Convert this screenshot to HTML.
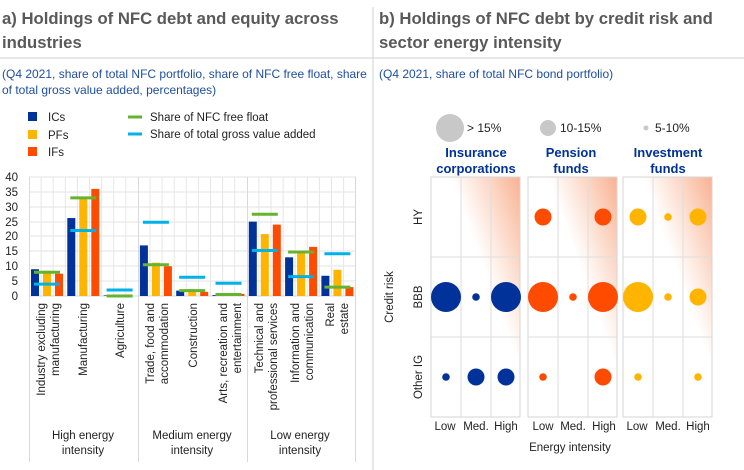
<!DOCTYPE html>
<html><head><meta charset="utf-8"><style>
body{margin:0;background:#fff;}
svg{display:block;font-family:"Liberation Sans",sans-serif;}
</style></head><body>
<svg width="744" height="470" viewBox="0 0 744 470" xmlns="http://www.w3.org/2000/svg">
<defs>
<linearGradient id="g" gradientUnits="userSpaceOnUse" x1="20" y1="0" x2="81" y2="-22">
<stop offset="0" stop-color="#f9b796" stop-opacity="0"/>
<stop offset="1" stop-color="#f9b192" stop-opacity="1"/>
</linearGradient>
</defs>
<line x1="373" y1="7" x2="373" y2="470" stroke="#d0d0d0" stroke-width="1"/>
<line x1="0" y1="58" x2="744" y2="58" stroke="#d0d0d0" stroke-width="1"/>
<g font-weight="bold" fill="#595959" font-size="16.7">
<text x="2" y="24">a) Holdings of NFC debt and equity across</text>
<text x="2" y="48">industries</text>
<text x="379" y="24">b) Holdings of NFC debt by credit risk and</text>
<text x="379" y="48">sector energy intensity</text>
</g>
<g fill="#1f4ea1" font-size="12">
<text x="2" y="78">(Q4 2021, share of total NFC portfolio, share of NFC free float, share</text>
<text x="2" y="94">of total gross value added, percentages)</text>
<text x="379" y="78">(Q4 2021, share of total NFC bond portfolio)</text>
</g>
<rect x="28" y="112" width="9" height="9" fill="#003299"/>
<rect x="28" y="130" width="9" height="9" fill="#ffb400"/>
<rect x="28" y="147" width="9" height="9" fill="#ff4b00"/>
<g font-size="11.5" fill="#222">
<text x="48" y="121">ICs</text><text x="48" y="139">PFs</text><text x="48" y="156">IFs</text>
<text x="150" y="121">Share of NFC free float</text>
<text x="150" y="138">Share of total gross value added</text>
</g>
<line x1="128" y1="117" x2="142" y2="117" stroke="#65b32e" stroke-width="3"/>
<line x1="128" y1="134" x2="142" y2="134" stroke="#00b1ea" stroke-width="3"/>
<g stroke="#e3e3e3" stroke-width="1">
<line x1="29" y1="177" x2="356" y2="177"/><line x1="29" y1="192" x2="356" y2="192"/>
<line x1="29" y1="207" x2="356" y2="207"/><line x1="29" y1="222" x2="356" y2="222"/>
<line x1="29" y1="236" x2="356" y2="236"/><line x1="29" y1="251" x2="356" y2="251"/>
<line x1="29" y1="266" x2="356" y2="266"/><line x1="29" y1="281" x2="356" y2="281"/>
</g>
<g id="vg" stroke="#e6e6e6"></g>
<line x1="29" y1="296" x2="356" y2="296" stroke="#d9d9d9"/>
<g stroke="#d9d9d9">
<line x1="29.5" y1="177" x2="29.5" y2="462"/>
<line x1="138.5" y1="177" x2="138.5" y2="462"/>
<line x1="247.5" y1="177" x2="247.5" y2="462"/>
<line x1="355.5" y1="177" x2="355.5" y2="462"/>
</g>
<g font-size="11.5" fill="#222" text-anchor="end">
<text x="18" y="181">40</text><text x="18" y="196">35</text><text x="18" y="211">30</text>
<text x="18" y="226">25</text><text x="18" y="240">20</text><text x="18" y="255">15</text>
<text x="18" y="270">10</text><text x="18" y="285">5</text><text x="18" y="300">0</text>
</g>
<g id="bars"></g>
<g font-size="11.5" fill="#222" text-anchor="end">
<text transform="translate(45,303) rotate(-90)">Industry excluding</text>
<text transform="translate(59,303) rotate(-90)">manufacturing</text>
<text transform="translate(87,303) rotate(-90)">Manufacturing</text>
<text transform="translate(124,303) rotate(-90)">Agriculture</text>
<text transform="translate(154,303) rotate(-90)">Trade, food and</text>
<text transform="translate(168,303) rotate(-90)">accommodation</text>
<text transform="translate(197,303) rotate(-90)">Construction</text>
<text transform="translate(227,303) rotate(-90)">Arts, recreation and</text>
<text transform="translate(241,303) rotate(-90)">entertainment</text>
<text transform="translate(263,303) rotate(-90)">Technical and</text>
<text transform="translate(277,303) rotate(-90)">professional services</text>
<text transform="translate(299,303) rotate(-90)">Information and</text>
<text transform="translate(313,303) rotate(-90)">communication</text>
<text transform="translate(334,303) rotate(-90)">Real</text>
<text transform="translate(348,303) rotate(-90)">estate</text>
</g>
<g font-size="11.5" fill="#222" text-anchor="middle">
<text x="83" y="439">High energy</text><text x="83" y="454">intensity</text>
<text x="192" y="439">Medium energy</text><text x="192" y="454">intensity</text>
<text x="300" y="439">Low energy</text><text x="300" y="454">intensity</text>
</g>
<circle cx="450" cy="128" r="14" fill="#c8c8c8"/>
<circle cx="548" cy="128" r="8" fill="#c8c8c8"/>
<circle cx="646" cy="128" r="2.5" fill="#c8c8c8"/>
<g font-size="12" fill="#222">
<text x="467" y="132">&gt; 15%</text><text x="560" y="132">10-15%</text><text x="655" y="132">5-10%</text>
</g>
<g font-size="13" font-weight="bold" fill="#003299" text-anchor="middle">
<text x="476" y="157">Insurance</text><text x="476" y="173">corporations</text>
<text x="571" y="157">Pension</text><text x="571" y="173">funds</text>
<text x="668" y="157">Investment</text><text x="668" y="173">funds</text>
</g>
<g id="panels"></g>
<text transform="translate(393,297) rotate(-90)" font-size="11.5" fill="#222" text-anchor="middle">Credit risk</text>
<g font-size="11.5" fill="#222" text-anchor="middle">
<text transform="translate(422,217) rotate(-90)">HY</text>
<text transform="translate(422,297) rotate(-90)">BBB</text>
<text transform="translate(422,377) rotate(-90)">Other IG</text>
<text x="445" y="430">Low</text><text x="476" y="430">Med.</text><text x="506" y="430">High</text>
<text x="543" y="430">Low</text><text x="573" y="430">Med.</text><text x="604" y="430">High</text>
<text x="637" y="430">Low</text><text x="668" y="430">Med.</text><text x="698" y="430">High</text>
<text x="570" y="451">Energy intensity</text>
</g>
<script>
const NS="http://www.w3.org/2000/svg";
function el(p,t,a){const e=document.createElementNS(NS,t);for(const k in a)e.setAttribute(k,a[k]);p.appendChild(e);return e;}
const vg=document.getElementById('vg');
for(let i=0;i<9;i++){for(let j=1;j<3;j++){const x=29+36.3*i+12.1*j;el(vg,'line',{x1:x,y1:177,x2:x,y2:296});}
 if(i%3!=0){const x=29+36.3*i;el(vg,'line',{x1:x,y1:177,x2:x,y2:296});}}
const d=[[9,8.5,7.5,8,4],[26.2,33,36,33,22],[0.2,0,0,0,2],[17,11.2,10,10.5,24.8],[1.8,1.8,1.4,1.8,6.3],[0.3,0.5,0.7,0.5,4.3],[25,20.8,24,27.5,15.3],[13,15,16.5,14.8,6.5],[6.8,8.8,3,3,14.2]];
const cols=['#003299','#ffb400','#ff4b00'];const b=document.getElementById('bars');const k=119/40;
d.forEach((v,i)=>{const x0=29+36.3*i;
 for(let j=0;j<3;j++){const h=v[j]*k;if(h>0)el(b,'rect',{x:x0+2+12*j,y:296-h,width:8,height:h,fill:cols[j]});}
 el(b,'line',{x1:x0+5,x2:x0+31,y1:296-v[3]*k,y2:296-v[3]*k,stroke:'#65b32e','stroke-width':3});
 el(b,'line',{x1:x0+5,x2:x0+31,y1:296-v[4]*k,y2:296-v[4]*k,stroke:'#00b1ea','stroke-width':3});
});
const P=document.getElementById('panels');
const px=[431,528,623];const pc=['#003299','#ff4b00','#ffb400'];
const R={B:15,M:8.5,S:3.8};
const data=[[['','',''],['B','S','B'],['S','M','M']],[['M','','M'],['B','S','B'],['S','','M']],[['M','S','M'],['B','S','M'],['S','','S']]];
px.forEach((x,p)=>{const g=el(P,'g',{transform:`translate(${x},177)`});
 el(g,'rect',{x:0,y:0,width:89,height:240,fill:'url(#g)'});
 el(g,'path',{d:'M30,0V240M60,0V240M0,80H89M0,160H89',stroke:'#dedede',fill:'none'});
 el(g,'rect',{x:0,y:0,width:89,height:240,fill:'none',stroke:'#d6d6d6'});
 data[p].forEach((row,r)=>row.forEach((s,c)=>{if(s)el(g,'circle',{cx:15+30*c,cy:40+80*r,r:R[s],fill:pc[p]});}));
});
</script>
</svg>
</body></html>
